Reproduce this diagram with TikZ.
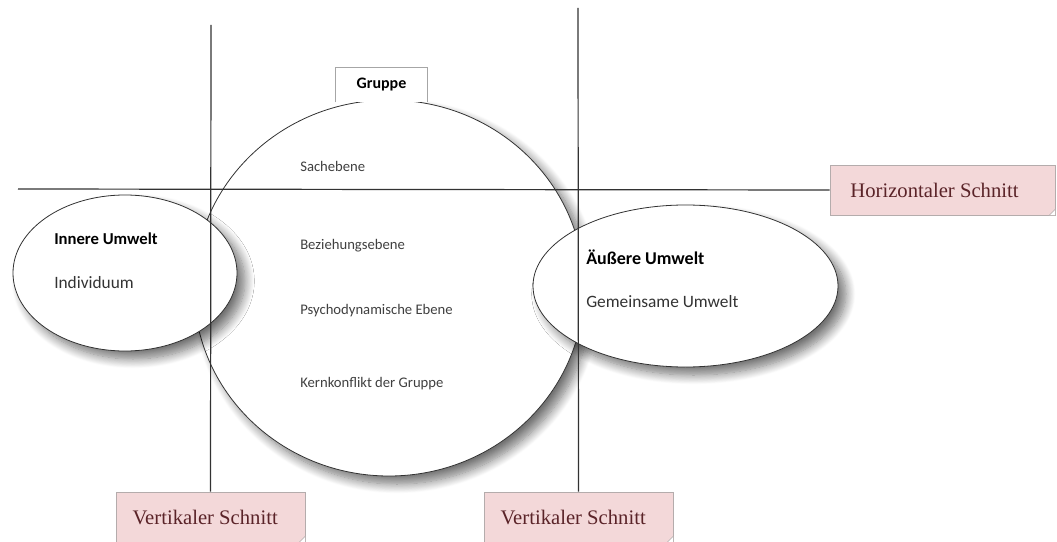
\documentclass[tikz,border=0pt]{standalone}
\usepackage{fontspec}
\setmainfont{Carlito}
\newfontfamily\schnittfont{Liberation Serif}
\usetikzlibrary{shapes.geometric,shadows.blur}
\definecolor{schnittrosa}{RGB}{243,216,217}
\definecolor{schnittrand}{RGB}{180,172,172}
\definecolor{schnitttext}{RGB}{90,35,40}
\definecolor{linie}{RGB}{50,50,50}

\begin{document}
\begin{tikzpicture}[x=0.75pt,y=0.75pt,yscale=-1,xscale=1,
  schnitt/.style={draw=schnittrand,fill=schnittrosa,text=schnitttext,font=\schnittfont\fontsize{15.5}{18}\selectfont,inner sep=0pt,minimum height=37.5pt},
  umwelt/.style={ellipse,draw=linie,fill=white,line width=0.6pt,inner sep=0pt,blur shadow={shadow xshift=6pt,shadow yshift=-6pt,shadow blur radius=7pt,shadow blur steps=12,shadow opacity=55}},
  ebene/.style={anchor=west,inner sep=0pt,font=\fontsize{11}{13}\selectfont,text=black!75},
  titel/.style={anchor=west,inner sep=0pt,font=\bfseries\fontsize{12.5}{15}\selectfont},
  zeile/.style={anchor=west,inner sep=0pt,font=\fontsize{13}{15}\selectfont,text=black!80},
  schnittlinie/.style={draw=linie,line width=0.9pt}]

\useasboundingbox (0,0) rectangle (1057,542);

%Shape: Ellipse Gruppe
\node [umwelt,minimum width=292.5pt,minimum height=282pt] (gruppenkreis) at (389,288) {};
% Tab Gruppe
\node [fill=white,inner sep=0pt,minimum width=68.25pt,minimum height=25.5pt,font=\bfseries\fontsize{12}{14}\selectfont] (gruppe) at (381.5,85) {Gruppe};
\draw [color=black!35] (gruppe.south west) -- (gruppe.north west) -- (gruppe.north east) -- (gruppe.south east);

%Shape: Ellipse innen
\node [umwelt,minimum width=168pt,minimum height=117pt] (innen) at (125,273) {};
%Shape: Ellipse aussen
\node [umwelt,minimum width=228.75pt,minimum height=121.5pt] (aussen) at (685.5,286) {};

% Schnitt boxes
\node [schnitt,minimum width=168.75pt] (hschnitt) at (942.5,190) {\hspace*{-12pt}Horizontaler Schnitt};
\node [schnitt,minimum width=141.75pt] (vschnittA) at (210.5,517) {\hspace*{-8pt}Vertikaler Schnitt};
\node [schnitt,minimum width=141.75pt] (vschnittB) at (578.5,517) {\hspace*{-8pt}Vertikaler Schnitt};
\foreach \kasten in {hschnitt,vschnittA,vschnittB}
  \filldraw [draw=schnittrand,fill=white] (\kasten.south east) ++(-6,0) -- ++(6,-6) -- (\kasten.south east) -- cycle;

%Straight Lines
\coordinate (hlinks) at (18,189);
\coordinate (vobenA) at (211,25);
\coordinate (vobenB) at (578,8);
\draw [schnittlinie] (hlinks) -- (hschnitt.west);
\draw [schnittlinie] (vobenA) -- (vschnittA.north);
\draw [schnittlinie] (vobenB) -- (vschnittB.north);

% Text Node
\node [ebene] (sach) at (300,166) {Sachebene};
% Text Node
\node [ebene] (bez) at (300,246) {Beziehungsebene};
% Text Node
\node [ebene] (psy) at (300,311) {Psychodynamische Ebene};
% Text Node
\node [ebene] (kern) at (300,384) {Kernkonflikt der Gruppe};
% Text Node
\node [titel] (innentitel) at (54,239) {Innere Umwelt};
% Text Node
\node [zeile] (indiv) at (54,283) {Individuum};
% Text Node
\node [titel,font=\bfseries\fontsize{13.5}{16}\selectfont] (aussentitel) at (586,257) {Äußere Umwelt};
% Text Node
\node [zeile] (gemein) at (586,302) {Gemeinsame Umwelt};
\end{tikzpicture}
\end{document}
